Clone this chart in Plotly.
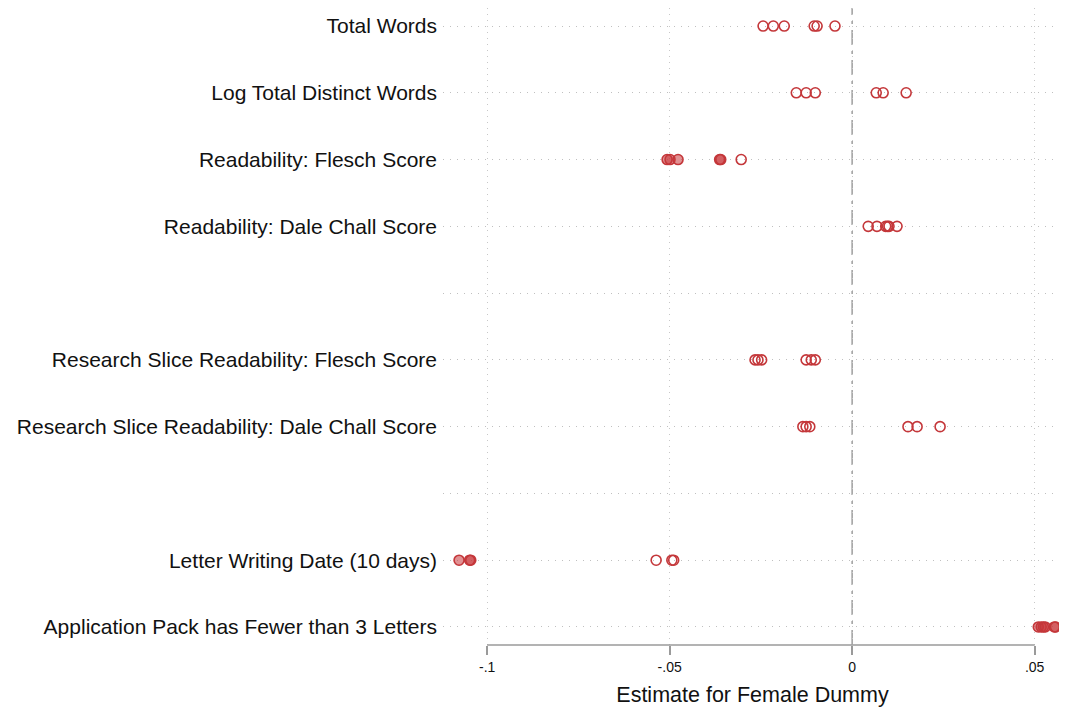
import plotly.graph_objects as go

# Row labels, top to bottom ("" = empty spacer row)
row_labels = [
    "Total Words",
    "Log Total Distinct Words",
    "Readability: Flesch Score",
    "Readability: Dale Chall Score",
    "",
    "Research Slice Readability: Flesch Score",
    "Research Slice Readability: Dale Chall Score",
    "",
    "Letter Writing Date (10 days)",
    "Application Pack has Fewer than 3 Letters",
]

# Estimates per row and significance flags (1 = filled marker)
total_words = [-0.0244, -0.0216, -0.0186, -0.0104, -0.0096, -0.0047]
total_words_sig = [0, 0, 0, 0, 0, 0]
log_distinct = [-0.0153, -0.0126, -0.0101, 0.0066, 0.0085, 0.0148]
log_distinct_sig = [0, 0, 0, 0, 0, 0]
flesch = [-0.0507, -0.0499, -0.0477, -0.0363, -0.0360, -0.0304]
flesch_sig = [1, 1, 1, 1, 1, 0]
dale_chall = [0.0044, 0.0068, 0.0092, 0.0097, 0.0101, 0.0123]
dale_chall_sig = [0, 0, 0, 0, 0, 0]
res_flesch = [-0.0266, -0.0258, -0.0248, -0.0126, -0.0112, -0.0101]
res_flesch_sig = [0, 0, 0, 0, 0, 0]
res_dale = [-0.0135, -0.0126, -0.0116, 0.0153, 0.0178, 0.0241]
res_dale_sig = [0, 0, 0, 0, 0, 0]
letter_date = [-0.1077, -0.1048, -0.1045, -0.0537, -0.0494, -0.0489]
letter_date_sig = [1, 1, 1, 0, 0, 0]
fewer_letters = [0.0510, 0.0518, 0.0524, 0.0529, 0.0554, 0.0557]
fewer_letters_sig = [1, 1, 1, 1, 1, 1]

rows = [
    (0, total_words, total_words_sig),
    (1, log_distinct, log_distinct_sig),
    (2, flesch, flesch_sig),
    (3, dale_chall, dale_chall_sig),
    (5, res_flesch, res_flesch_sig),
    (6, res_dale, res_dale_sig),
    (8, letter_date, letter_date_sig),
    (9, fewer_letters, fewer_letters_sig),
]

x_tickvals = [-0.1, -0.05, 0, 0.05]
x_ticktext = ["-.1", "-.05", "0", ".05"]

RED = "#c4373a"
FILL = "rgba(200,55,58,0.55)"
FONT = "Liberation Sans, Arial, Helvetica, sans-serif"

fig = go.Figure()

hx, hy, fx, fy = [], [], [], []
for yi, vals, sig in rows:
    for v, s in zip(vals, sig):
        if s:
            fx.append(v); fy.append(yi)
        else:
            hx.append(v); hy.append(yi)

fig.add_trace(go.Scatter(
    x=hx, y=hy, mode="markers",
    marker=dict(size=10, color="rgba(255,255,255,0)", line=dict(color=RED, width=1.6)),
    showlegend=False, hoverinfo="x",
))
fig.add_trace(go.Scatter(
    x=fx, y=fy, mode="markers",
    marker=dict(size=10, color=FILL, line=dict(color=RED, width=1.6)),
    showlegend=False, hoverinfo="x",
))

# zero reference line (dash-dot)
fig.add_shape(type="line", xref="x", yref="paper", x0=0, x1=0, y0=0, y1=1,
              line=dict(color="#9e9e9e", width=1.5, dash="longdashdot"), layer="below")
# axis line spanning only the labeled range
fig.add_shape(type="line", xref="x", yref="paper", x0=-0.1, x1=0.05, y0=0, y1=0,
              line=dict(color="#9a9a9a", width=1.5))

# page body has an 8px margin, so the figure is 1059x700 placed at (8,8)
fig.update_layout(
    width=1059, height=700,
    margin=dict(l=435, r=5, t=0, b=63),
    paper_bgcolor="white", plot_bgcolor="white",
    font=dict(family=FONT, color="#111111"),
    xaxis=dict(
        range=[-0.1121, 0.0575],
        tickvals=x_tickvals, ticktext=x_ticktext,
        ticks="outside", ticklen=9, tickwidth=1.5, tickcolor="#9a9a9a",
        tickfont=dict(size=14, family=FONT, color="#111111"),
        showline=False, zeroline=False,
        showgrid=True, gridcolor="#c8c8c8", gridwidth=1, griddash="1px,5px",
        title=dict(text="Estimate for Female Dummy", font=dict(size=21.5, family=FONT, color="#111111"), standoff=13),
    ),
    yaxis=dict(
        range=[9.27, -0.27],
        tickvals=list(range(len(row_labels))), ticktext=row_labels,
        tickfont=dict(size=21, family=FONT, color="#111111"),
        ticks="", showline=False, zeroline=False, ticklabelstandoff=5,
        showgrid=True, gridcolor="#c0c0c0", gridwidth=1, griddash="1px,6px",
    ),
)

fig.write_html("out.html")
